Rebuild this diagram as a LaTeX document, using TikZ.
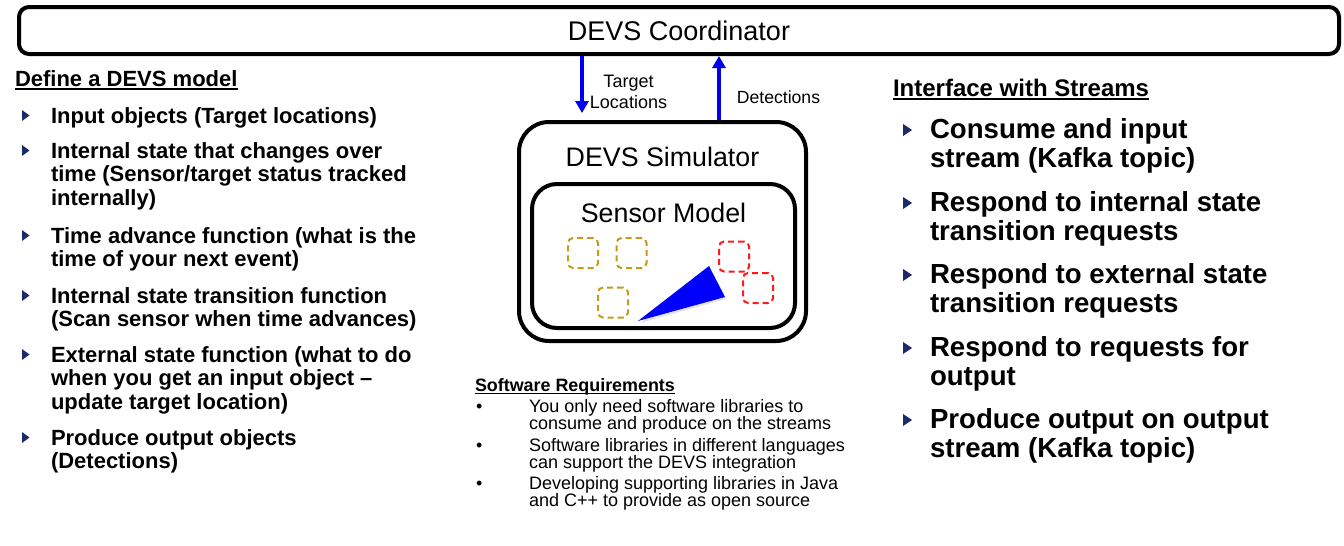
\documentclass[tikz,border=0pt]{standalone}
\usepackage{fontspec}
\setmainfont{Liberation Sans}
\usetikzlibrary{arrows.meta}
\definecolor{navy}{HTML}{1B2A6B}
\definecolor{arrowblue}{HTML}{0000F0}
\definecolor{gold}{HTML}{C49A16}
\definecolor{tred}{HTML}{FF1A1A}
\begin{document}
\begin{tikzpicture}[x=1pt,y=-1pt,
  txt/.style={inner sep=0pt, outer sep=0pt, anchor=base west, align=left},
  lhead/.style={txt, font=\fontsize{22}{24}\selectfont\bfseries},
  litem/.style={txt, font=\fontsize{22}{23.5}\selectfont\bfseries},
  rhead/.style={txt, font=\fontsize{24}{26}\selectfont\bfseries},
  ritem/.style={txt, font=\fontsize{27.6}{29.5}\selectfont\bfseries},
  swhead/.style={txt, font=\fontsize{17.9}{17}\selectfont\bfseries},
  switem/.style={txt, font=\fontsize{18}{17}\selectfont},
  box/.style={draw, line width=4pt, rounded corners=#1, inner sep=0pt},
  flow/.style={draw=arrowblue, line width=3.5pt, -{Triangle[length=12pt,width=13pt]}},
  tgt/.style={draw=#1, line width=2pt, dash pattern=on 6pt off 4pt, rounded corners=5pt, minimum size=30pt, inner sep=0pt},
  uline/.style={line width=2pt},
]
\useasboundingbox (0,0) rectangle (1344,546);
\fill[white] (0,0) rectangle (1344,546);

% Coordinator
\node[box=10pt, minimum width=1320pt, minimum height=47pt, font=\fontsize{27}{29}\selectfont] (coord) at (679,30.5) {DEVS Coordinator};

% Simulator and sensor model
\node[box=30pt, minimum width=287pt, minimum height=219pt] (sim) at (662.5,231.5) {};
\node[font=\fontsize{26.8}{29}\selectfont, anchor=base, inner sep=0pt] (simt) at (662.5,166) {DEVS Simulator};
\node[box=25pt, minimum width=263pt, minimum height=144pt] (sensor) at (663.5,256) {};
\node[font=\fontsize{26.8}{29}\selectfont, anchor=base, inner sep=0pt] (sent) at (663.5,222) {Sensor Model};

% targets
\node[tgt=gold] (t1) at (583,253) {};
\node[tgt=gold] (t2) at (631.5,253) {};
\node[tgt=gold] (t3) at (613,302.5) {};
\node[tgt=tred] (t4) at (734,256.5) {};
\node[tgt=tred] (t5) at (758,288) {};
% sensor beam
\fill[black!30, opacity=0.35] (640,323) -- (710,268) -- (726,299) -- cycle;
\fill[blue] (638,321) -- (709,266) -- (725,297) -- cycle;

% arrows
\coordinate (dx) at (582,0);
\coordinate (ux) at (719,0);
\draw[flow] (coord.south -| dx) -- ([yshift=7pt]sim.north -| dx);
\draw[flow] (sim.north -| ux) -- (coord.south -| ux);
\node[font=\fontsize{18}{21}\selectfont, align=center, inner sep=0pt] (tl) at (628.5,91.5) {Target\\Locations};
\node[font=\fontsize{17.6}{21}\selectfont, inner sep=0pt] (dl) at (778.5,97) {Detections};

% left column (node y = baseline of last line)
\node[lhead] (lh) at (15,86) {Define a DEVS model};
\draw[uline] ([yshift=-3pt]lh.base west) -- ([yshift=-3pt]lh.base east);
\node[litem] (l1) at (51,123) {Input objects (Target locations)};
\node[litem] (l2) at (51,205) {Internal state that changes over\\time (Sensor/target status tracked\\internally)};
\node[litem] (l3) at (51,266.5) {Time advance function (what is the\\time of your next event)};
\node[litem] (l4) at (51,326.5) {Internal state transition function\\(Scan sensor when time advances)};
\node[litem] (l5) at (51,409) {External state function (what to do\\when you get an input object --\\update target location)};
\node[litem] (l6) at (51,468.5) {Produce output objects\\(Detections)};
\foreach \y in {123,158,243,303,362,445}
  \fill[navy] (22,\y-13) -- (29.5,\y-7.5) -- (22,\y-2) -- cycle;

% right column
\node[rhead] (rh) at (893,96) {Interface with Streams};
\draw[uline] ([yshift=-3pt]rh.base west) -- ([yshift=-3pt]rh.base east);
\node[ritem] (r1) at (930,167.5) {Consume and input\\stream (Kafka topic)};
\node[ritem] (r2) at (930,240.5) {Respond to internal state\\transition requests};
\node[ritem] (r3) at (930,312.5) {Respond to external state\\transition requests};
\node[ritem] (r4) at (930,385.5) {Respond to requests for\\output};
\node[ritem] (r5) at (930,457.5) {Produce output on output\\stream (Kafka topic)};
\foreach \y in {138,211,283,356,428}
  \fill[navy] (903,\y-14) -- (912,\y-8) -- (903,\y-2) -- cycle;

% software requirements
\node[swhead] (sh) at (475,391) {Software Requirements};
\draw[line width=1.5pt] ([yshift=-2.5pt]sh.base west) -- ([yshift=-2.5pt]sh.base east);
\node[switem] (s1) at (529,429) {You only need software libraries to\\consume and produce on the streams};
\node[switem] (s2) at (529,468) {Software libraries in different languages\\can support the DEVS integration};
\node[switem] (s3) at (529,506) {Developing supporting libraries in Java\\and C++ to provide as open source};
\foreach \y/\n in {412/b1,451/b2,489/b3}
  \node[switem] (\n) at (476,\y) {\textbullet};
\end{tikzpicture}
\end{document}
